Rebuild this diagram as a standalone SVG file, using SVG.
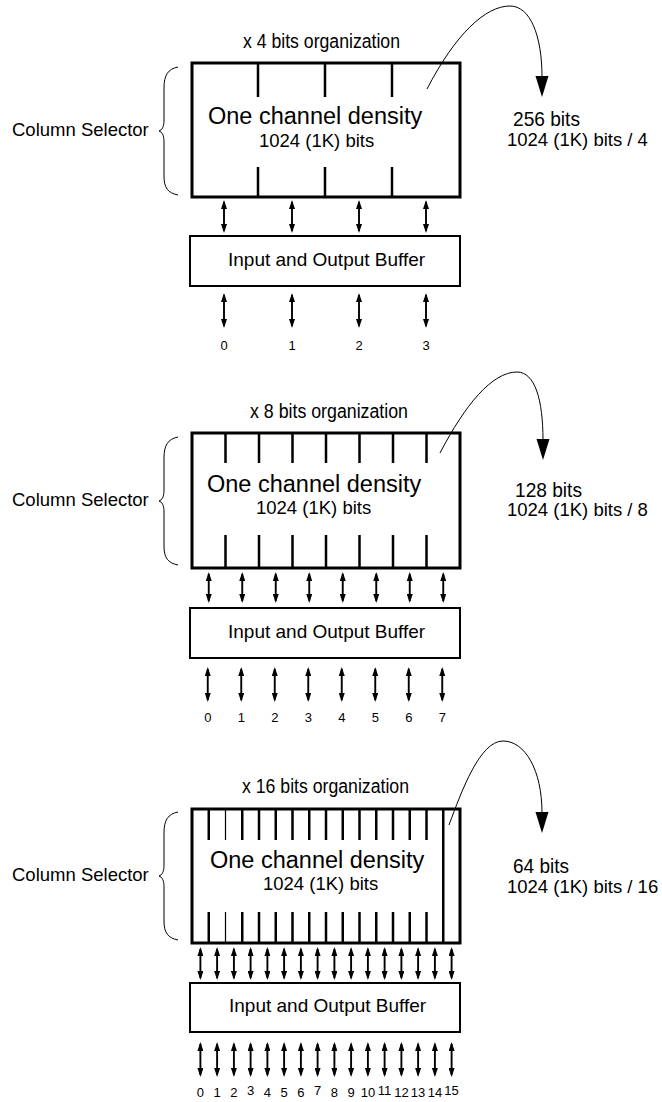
<svg xmlns="http://www.w3.org/2000/svg" width="662" height="1102" viewBox="0 0 662 1102">
<style>
text{font-family:"Liberation Sans",Arial,sans-serif;fill:#000}
.box{fill:none;stroke:#000;stroke-width:3}
.buf{fill:none;stroke:#000;stroke-width:2}
.div{stroke:#000;stroke-width:2.5}
.thin{stroke:#000;stroke-width:1.2}
.brace{fill:none;stroke:#000;stroke-width:1}
.dbl line{stroke:#000;stroke-width:1.9;marker-start:url(#ah);marker-end:url(#ah)}
.curve{fill:none;stroke:#000;stroke-width:1}
.title{font-size:20px}
.ocd{font-size:23.5px}
.sub{font-size:18.5px}
.bt{font-size:19px}
.lbl{font-size:13px;text-anchor:middle}
.res{font-size:21px}
</style>
<defs>
<marker id="ah" markerUnits="userSpaceOnUse" markerWidth="9" markerHeight="6" refX="7" refY="3" orient="auto-start-reverse">
<path d="M0,0 L9,3 L0,6 z" fill="#000"/>
</marker>
<path id="brace" d="M178,67 C168,69 164,75 164,88 L164,120 C164,127 162,130 159,131 C162,132 164,135 164,142 L164,176 C164,188 168,193 178,195"/>
</defs>
<rect width="662" height="1102" fill="#fff"/>

<!-- Section 1: x4 -->
<g id="title1"><text class="title" x="243" y="48" textLength="157" lengthAdjust="spacingAndGlyphs">x 4 bits organization</text></g>
<g id="selector1">
<use href="#brace" class="brace"/>
<text class="sub" x="12" y="136">Column Selector</text>
</g>
<g id="array1">
<rect class="box" x="192" y="63" width="268" height="134"/>
<path class="div" d="M258,63V97M325,63V97M392,63V97M258,167V197M325,167V197M392,167V197"/>
<text class="ocd" x="208" y="124">One channel density</text>
<text class="sub" x="259" y="147">1024 (1K) bits</text>
</g>
<g id="buffer1">
<rect class="buf" x="190" y="236" width="270" height="50"/>
<text class="bt" x="228" y="266">Input and Output Buffer</text>
</g>
<g id="pins1">
<text class="lbl" x="224" y="350">0</text><text class="lbl" x="292" y="350">1</text><text class="lbl" x="359" y="350">2</text><text class="lbl" x="426" y="350">3</text>
</g>
<g id="result1">
<text class="res" x="513" y="126" textLength="67" lengthAdjust="spacingAndGlyphs">256 bits</text>
<text class="sub" x="507" y="146">1024 (1K) bits / 4</text>
</g>

<!-- Section 2: x8 -->
<g id="title2"><text class="title" x="250" y="418" textLength="158" lengthAdjust="spacingAndGlyphs">x 8 bits organization</text></g>
<g id="selector2">
<use href="#brace" class="brace" transform="translate(0,370)"/>
<text class="sub" x="12" y="506">Column Selector</text>
</g>
<g id="array2">
<rect class="box" x="192" y="433" width="268" height="135"/>
<path class="div" d="M225.5,433V463M259,433V463M292.5,433V463M326,433V463M359.5,433V463M393,433V463M426.5,433V463M225.5,535V568M259,535V568M292.5,535V568M326,535V568M359.5,535V568M393,535V568M426.5,535V568"/>
<text class="ocd" x="207" y="492">One channel density</text>
<text class="sub" x="256" y="514">1024 (1K) bits</text>
</g>
<g id="buffer2">
<rect class="buf" x="190" y="608" width="270" height="50"/>
<text class="bt" x="228" y="638">Input and Output Buffer</text>
</g>
<g id="pins2">
<text class="lbl" x="207.75" y="722">0</text><text class="lbl" x="241.25" y="722">1</text><text class="lbl" x="274.75" y="722">2</text><text class="lbl" x="308.25" y="722">3</text><text class="lbl" x="341.75" y="722">4</text><text class="lbl" x="375.25" y="722">5</text><text class="lbl" x="408.75" y="722">6</text><text class="lbl" x="442.25" y="722">7</text>
</g>
<g id="result2">
<text class="res" x="515" y="497" textLength="67" lengthAdjust="spacingAndGlyphs">128 bits</text>
<text class="sub" x="507" y="516">1024 (1K) bits / 8</text>
</g>

<!-- Section 3: x16 -->
<g id="title3"><text class="title" x="242" y="793" textLength="167" lengthAdjust="spacingAndGlyphs">x 16 bits organization</text></g>
<g id="selector3">
<use href="#brace" class="brace" transform="translate(0,745)"/>
<text class="sub" x="12" y="881">Column Selector</text>
</g>
<g id="array3">
<rect class="box" x="192" y="809" width="268" height="134"/>
<path class="div" d="M208.75,809V840M242.25,809V840M259,809V840M275.75,809V840M292.5,809V840M309.25,809V840M326,809V840M342.75,809V840M359.5,809V840M376.25,809V840M393,809V840M409.75,809V840M426.5,809V840M208.75,912V943M242.25,912V943M259,912V943M275.75,912V943M292.5,912V943M309.25,912V943M326,912V943M342.75,912V943M359.5,912V943M376.25,912V943M393,912V943M409.75,912V943M426.5,912V943M443.25,809V943"/>
<path class="thin" d="M225.5,809V840M225.5,912V943"/>
<text class="ocd" x="210" y="868">One channel density</text>
<text class="sub" x="263" y="890">1024 (1K) bits</text>
</g>
<g id="buffer3">
<rect class="buf" x="190" y="983" width="270" height="49"/>
<text class="bt" x="229" y="1012">Input and Output Buffer</text>
</g>
<g id="pins3">
<text class="lbl" x="200.4" y="1097">0</text><text class="lbl" x="217.1" y="1097">1</text><text class="lbl" x="233.9" y="1097">2</text><text class="lbl" x="250.6" y="1095">3</text><text class="lbl" x="267.4" y="1097">4</text><text class="lbl" x="284.1" y="1097">5</text><text class="lbl" x="300.9" y="1097">6</text><text class="lbl" x="317.6" y="1095">7</text><text class="lbl" x="334.4" y="1097">8</text><text class="lbl" x="351.1" y="1097">9</text><text class="lbl" x="367.9" y="1097">10</text><text class="lbl" x="384.6" y="1095">11</text><text class="lbl" x="401.4" y="1097">12</text><text class="lbl" x="418.1" y="1097">13</text><text class="lbl" x="434.9" y="1097">14</text><text class="lbl" x="451.6" y="1095">15</text>
</g>
<g id="result3">
<text class="res" x="513" y="873" textLength="56" lengthAdjust="spacingAndGlyphs">64 bits</text>
<text class="sub" x="507" y="893">1024 (1K) bits / 16</text>
</g>

<g id="connectors">
<g class="dbl">
<line x1="224" y1="202" x2="224" y2="231"/><line x1="292" y1="202" x2="292" y2="231"/><line x1="359" y1="202" x2="359" y2="231"/><line x1="426" y1="202" x2="426" y2="231"/>
<line x1="224" y1="295" x2="224" y2="326"/><line x1="292" y1="295" x2="292" y2="326"/><line x1="359" y1="295" x2="359" y2="326"/><line x1="426" y1="295" x2="426" y2="326"/>
<line x1="208.75" y1="574" x2="208.75" y2="601"/><line x1="242.25" y1="574" x2="242.25" y2="601"/><line x1="275.75" y1="574" x2="275.75" y2="601"/><line x1="309.25" y1="574" x2="309.25" y2="601"/><line x1="342.75" y1="574" x2="342.75" y2="601"/><line x1="376.25" y1="574" x2="376.25" y2="601"/><line x1="409.75" y1="574" x2="409.75" y2="601"/><line x1="443.25" y1="574" x2="443.25" y2="601"/>
<line x1="207.75" y1="669" x2="207.75" y2="700"/><line x1="241.25" y1="669" x2="241.25" y2="700"/><line x1="274.75" y1="669" x2="274.75" y2="700"/><line x1="308.25" y1="669" x2="308.25" y2="700"/><line x1="341.75" y1="669" x2="341.75" y2="700"/><line x1="375.25" y1="669" x2="375.25" y2="700"/><line x1="408.75" y1="669" x2="408.75" y2="700"/><line x1="442.25" y1="669" x2="442.25" y2="700"/>
<line x1="200.4" y1="949" x2="200.4" y2="978"/><line x1="217.1" y1="949" x2="217.1" y2="978"/><line x1="233.9" y1="949" x2="233.9" y2="978"/><line x1="250.6" y1="949" x2="250.6" y2="978"/><line x1="267.4" y1="949" x2="267.4" y2="978"/><line x1="284.1" y1="949" x2="284.1" y2="978"/><line x1="300.9" y1="949" x2="300.9" y2="978"/><line x1="317.6" y1="949" x2="317.6" y2="978"/><line x1="334.4" y1="949" x2="334.4" y2="978"/><line x1="351.1" y1="949" x2="351.1" y2="978"/><line x1="367.9" y1="949" x2="367.9" y2="978"/><line x1="384.6" y1="949" x2="384.6" y2="978"/><line x1="401.4" y1="949" x2="401.4" y2="978"/><line x1="418.1" y1="949" x2="418.1" y2="978"/><line x1="434.9" y1="949" x2="434.9" y2="978"/><line x1="451.6" y1="949" x2="451.6" y2="978"/>
<line x1="200.4" y1="1044" x2="200.4" y2="1075"/><line x1="217.1" y1="1044" x2="217.1" y2="1075"/><line x1="233.9" y1="1044" x2="233.9" y2="1075"/><line x1="250.6" y1="1044" x2="250.6" y2="1075"/><line x1="267.4" y1="1044" x2="267.4" y2="1075"/><line x1="284.1" y1="1044" x2="284.1" y2="1075"/><line x1="300.9" y1="1044" x2="300.9" y2="1075"/><line x1="317.6" y1="1044" x2="317.6" y2="1075"/><line x1="334.4" y1="1044" x2="334.4" y2="1075"/><line x1="351.1" y1="1044" x2="351.1" y2="1075"/><line x1="367.9" y1="1044" x2="367.9" y2="1075"/><line x1="384.6" y1="1044" x2="384.6" y2="1075"/><line x1="401.4" y1="1044" x2="401.4" y2="1075"/><line x1="418.1" y1="1044" x2="418.1" y2="1075"/><line x1="434.9" y1="1044" x2="434.9" y2="1075"/><line x1="451.6" y1="1044" x2="451.6" y2="1075"/>
</g>
<path class="curve" d="M427,89 C455,35 485,6 510,6 C530,6 542,35 542,77"/>
<path d="M535.5,76 L548.5,76 L542,97 z" fill="#000"/>
<path class="curve" d="M440,453 C465,405 492,372 517,372 C535,372 543,400 543,440"/>
<path d="M536.5,439 L549.5,439 L543,460 z" fill="#000"/>
<path class="curve" d="M449,825 C462,790 480,741 503,741 C525,741 542,770 542,813"/>
<path d="M535.5,812 L548.5,812 L542,833 z" fill="#000"/>
</g>
</svg>
